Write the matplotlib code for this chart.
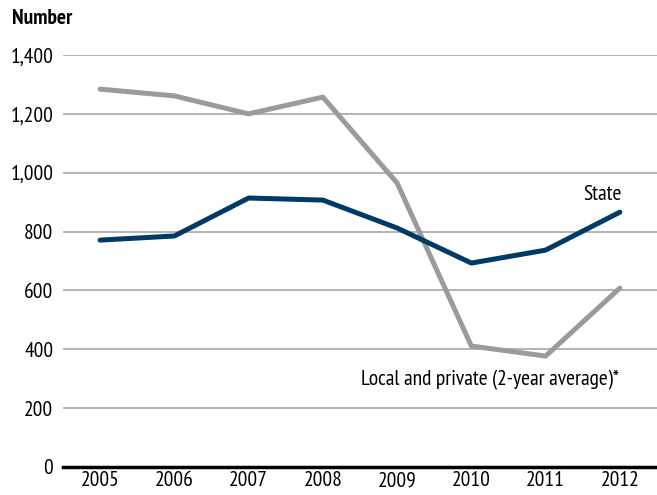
import numpy as np
import matplotlib.pyplot as plt
from matplotlib.ticker import FuncFormatter

years = [2005, 2006, 2007, 2008, 2009, 2010, 2011, 2012]
state = [771, 785, 914, 907, 812, 693, 737, 866]
local_private = [1284, 1261, 1200, 1257, 965, 411, 377, 608]
yticks = [0, 200, 400, 600, 800, 1000, 1200, 1400]

plt.rcParams['font.family'] = ['PT Sans Narrow', 'DejaVu Sans']

fig = plt.figure(figsize=(6.57, 4.95), dpi=100)
ax = fig.add_axes([63/657, 28/495, 594/657, 412/495])

ax.plot(years, local_private, color='#9a9b9f', lw=3.6, solid_capstyle='round', zorder=3)
ax.plot(years, state, color='#003a66', lw=3.6, solid_capstyle='round', zorder=4)

ax.set_xlim(2004.5, 2012.5)
ax.set_ylim(0, 1400)
ax.set_yticks(yticks)
ax.yaxis.set_major_formatter(FuncFormatter(lambda v, p: f'{int(v):,}'))
ax.set_xticks(years)
ax.grid(axis='y', color='#a7a7a9', lw=1.2)
ax.set_axisbelow(True)
for s in ['top', 'right', 'left']:
    ax.spines[s].set_visible(False)
ax.spines['bottom'].set_linewidth(2.5)
ax.spines['bottom'].set_color('black')
ax.spines['bottom'].set_zorder(5)
ax.tick_params(axis='both', length=0, labelsize=15.5, colors='black')
ax.tick_params(axis='y', pad=7)
ax.tick_params(axis='x', pad=3)

ax.text(2012.03, 895, 'State', fontsize=15.5, ha='right', va='bottom')
ax.text(2010.25, 262, 'Local and private (2-year average)*', fontsize=15.5, ha='center', va='bottom')
fig.text(12/657, 1-18/495, 'Number', fontsize=15.5, fontweight='bold', va='center')

fig.savefig('out.png')
